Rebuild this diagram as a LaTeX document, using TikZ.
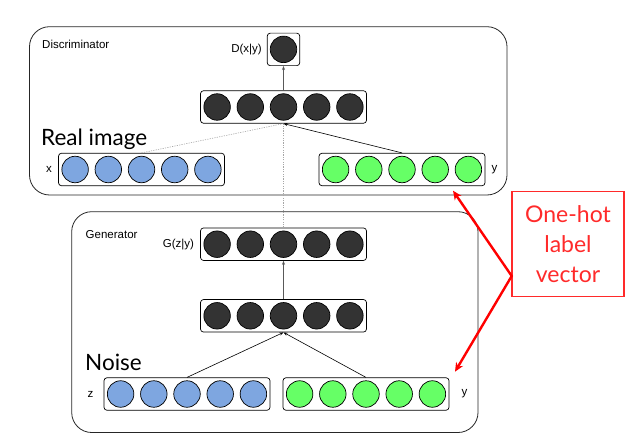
\documentclass[tikz,border=0pt]{standalone}
\usepackage{fontspec}
\setmainfont{Liberation Sans}
\newfontfamily\gillfont{Lato}
\usetikzlibrary{arrows.meta,positioning}
\definecolor{unitdark}{HTML}{333333}
\definecolor{unitblue}{HTML}{7EA6E0}
\definecolor{unitgreen}{HTML}{66FF66}
\definecolor{hotred}{HTML}{FF2A2A}

\begin{document}
\begin{tikzpicture}[x=1pt,y=-1pt,
  unit/.style={circle,draw,line width=0.7pt,inner sep=0pt,minimum size=26.5pt},
  layer/.style={draw,fill=white,rounded corners=3pt,line width=0.7pt,
    minimum width=166pt,minimum height=32.5pt,inner sep=0pt},
  net/.style={draw=black!85,rounded corners=20pt,line width=0.8pt},
  tag/.style={font=\fontsize{11.5}{13}\selectfont,inner sep=1pt},
  big/.style={font=\gillfont\fontsize{22.5}{26}\selectfont,inner sep=0pt},
  feed/.style={-{Stealth[length=4pt,width=3pt]},line width=0.6pt},
  dots/.style={gray!70,dash pattern=on 1.2pt off 1.2pt,line width=0.6pt},
  hotarrow/.style={{Stealth[length=9pt,width=8pt]}-{Stealth[length=9pt,width=8pt]},
    draw=red,line width=2.4pt,line join=miter}]
\useasboundingbox (0,0) rectangle (636,446);
% networks
\draw[net] (29.5,26.7) rectangle (507,195);
\draw[net] (71.7,211.7) rectangle (478,432.5);
\node (disc) [tag,anchor=west] at (41,44) {Discriminator};
\node (gen) [tag,anchor=west] at (84.5,234.3) {Generator};
% layers
\node (d-out) [layer,minimum width=32.5pt] at (283.5,49.4) {};
\node (d-hid) [layer] at (283.5,107) {};
\node (x-in) [layer] at (141.5,169.5) {};
\node (y-d) [layer] at (402,169.5) {};
\node (g-out) [layer] at (283.5,244.2) {};
\node (g-hid) [layer] at (283.5,315.8) {};
\node (z-in) [layer] at (187,394) {};
\node (y-g) [layer] at (366,394) {};
\node (d-out-1) [unit,fill=unitdark] at (d-out) {};
\foreach \row/\col in {d-hid/unitdark,x-in/unitblue,y-d/unitgreen,
  g-out/unitdark,g-hid/unitdark,z-in/unitblue,y-g/unitgreen}
  \foreach \i in {1,...,5}
    \node (\row-\i) [unit,fill=\col] at ([xshift=(\i-3)*33.2pt]\row.center) {};
% labels
\node (d-lbl) [tag,left=4pt of d-out] {D(x|y)};
\node (x-lbl) [tag,left=5pt of x-in] {x};
\node (yd-lbl) [tag,right=5pt of y-d] {y};
\node (g-lbl) [tag,left=5pt of g-out] {G(z|y)};
\node (z-lbl) [tag,left=9pt of z-in] {z};
\node (yg-lbl) [tag,right=11pt of y-g] {y};
\node (real) [big,anchor=base west] at (41,146) {Real image};
\node (noise) [big,anchor=base west] at (85,370) {Noise};
% connections
\draw[feed,draw=black!65] (d-hid) -- (d-out);
\draw[dots] (x-in.north) -- (d-hid.south);
\draw[feed] (y-d.north) -- (d-hid.south);
\draw[dots] (g-out.north) -- (d-hid.south);
\draw[feed,draw=black!65] (g-hid) -- (g-out);
\draw[feed] (z-in.north) -- (g-hid.south);
\draw[feed] (y-g.north) -- (g-hid.south);
% one-hot note
\node (hot) [draw=hotred,line width=1.2pt,text=hotred,align=center,
  minimum width=112pt,minimum height=105pt,inner sep=0pt,
  font=\gillfont\fontsize{23}{30}\selectfont] at (568,244.3) {One-hot\\label\\vector};
\coordinate (kink) at (511.7,276);
\coordinate (tip-d) at (453,190.7);
\coordinate (tip-g) at (455,371.7);
\draw[hotarrow] (tip-d) -- (kink) -- (tip-g);
\end{tikzpicture}
\end{document}
